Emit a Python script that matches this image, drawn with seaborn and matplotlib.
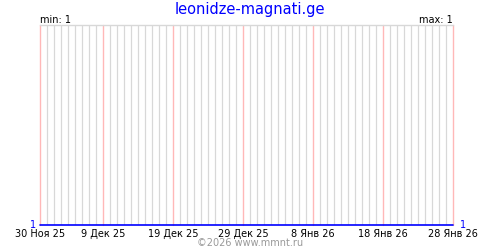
import matplotlib
matplotlib.use("Agg")
import matplotlib.pyplot as plt
import matplotlib.dates as mdates
import pandas as pd
import seaborn as sns

title = "leonidze-magnati.ge"
start_date = "2025-11-30"
end_date = "2026-01-28"
dates = pd.date_range(start_date, end_date, freq="D")
values = [1, 1, 1, 1, 1, 1, 1, 1, 1, 1,
          1, 1, 1, 1, 1, 1, 1, 1, 1, 1,
          1, 1, 1, 1, 1, 1, 1, 1, 1, 1,
          1, 1, 1, 1, 1, 1, 1, 1, 1, 1,
          1, 1, 1, 1, 1, 1, 1, 1, 1, 1,
          1, 1, 1, 1, 1, 1, 1, 1, 1, 1]
tick_dates = ["2025-11-30", "2025-12-09", "2025-12-19", "2025-12-29",
              "2026-01-08", "2026-01-18", "2026-01-28"]
tick_labels = ["30 Ноя 25", "9 Дек 25", "19 Дек 25", "29 Дек 25",
               "8 Янв 26", "18 Янв 26", "28 Янв 26"]
min_label = "min: 1"
max_label = "max: 1"
copyright_text = "©2026 www.mmnt.ru"

df = pd.DataFrame({"date": dates, "value": values})

sns.set_theme(style="white")
plt.rcParams["font.family"] = ["DejaVu Sans"]

fig = plt.figure(figsize=(5, 2.5), dpi=100)
ax = fig.add_axes([0.08, 0.1, 0.826, 0.8])

sns.lineplot(data=df, x="date", y="value", ax=ax, color="#0000ff",
             linewidth=1.2, zorder=5, clip_on=False)

ax.set_xlim(pd.Timestamp(start_date), pd.Timestamp(end_date))
ax.set_ylim(1, 2)

ax.xaxis.set_minor_locator(mdates.DayLocator())
ax.set_xticks([pd.Timestamp(d) for d in tick_dates])
ax.set_xticklabels(tick_labels)
ax.tick_params(axis="x", which="both", length=0, pad=3, labelsize=7,
               colors="black")
ax.set_yticks([])
ax.set_xlabel("")
ax.set_ylabel("")

ax.grid(True, which="minor", axis="x", color="#d8d8d8", linewidth=0.9, zorder=0)
ax.set_axisbelow(True)
for d in tick_dates:
    ax.axvline(pd.Timestamp(d), color="#ffb8b8", linewidth=1.0, zorder=2,
               clip_on=False)

for side in ["left", "right", "bottom"]:
    ax.spines[side].set_visible(False)
ax.spines["top"].set_color("#d8d8d8")
ax.spines["top"].set_linewidth(1)

fig.text(0.5, 0.962, title, ha="center", va="center", color="#0000ff",
         fontsize=10.5)
fig.text(0.08, 0.92, min_label, ha="left", va="center", fontsize=7,
         color="black")
fig.text(0.906, 0.92, max_label, ha="right", va="center", fontsize=7,
         color="black")
fig.text(0.066, 0.1, "1", ha="center", va="center", fontsize=7,
         color="#0000ff")
fig.text(0.926, 0.1, "1", ha="center", va="center", fontsize=7,
         color="#0000ff")
fig.text(0.5, 0.028, copyright_text, ha="center", va="center", fontsize=7,
         color="#999999")

fig.savefig("out.png", dpi=100)
